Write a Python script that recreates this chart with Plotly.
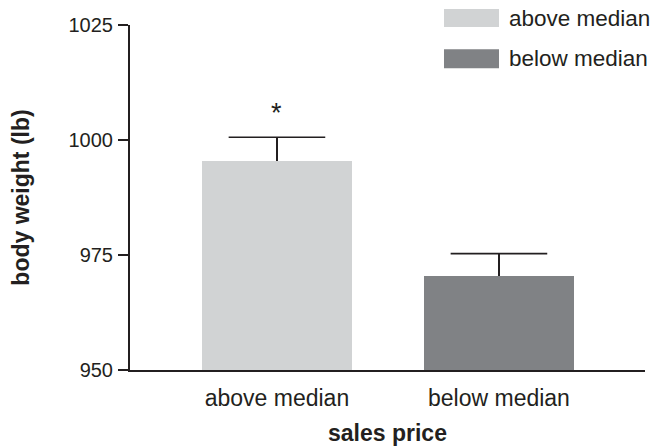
import plotly.graph_objects as go

categories = ["above median", "below median"]
values = [995.4, 970.4]
errors = [5.2, 4.9]
colors = ["#D1D3D4", "#808285"]
y_ticks = [950, 975, 1000, 1025]
significance = ["*", ""]

INK = "#231F20"
FONT = "Liberation Sans, Arial, Helvetica, sans-serif"

fig = go.Figure()
for cat, val, err, col in zip(categories, values, errors, colors):
    fig.add_trace(go.Bar(
        x=[cat], y=[val], name=cat, marker=dict(color=col, line=dict(width=0)),
        width=0.676, showlegend=False,
        error_y=dict(type="data", symmetric=False, array=[err], arrayminus=[0],
                     color=INK, thickness=1.6, width=0),
    ))

# error-bar caps (top only)
fig.add_trace(go.Scatter(
    x=categories, y=[v + e for v, e in zip(values, errors)], mode="markers",
    marker=dict(symbol="line-ew", size=69, line=dict(color=INK, width=1.6)),
    showlegend=False, hoverinfo="skip",
))

for cat, val, err, sig in zip(categories, values, errors, significance):
    if sig:
        fig.add_annotation(x=cat, y=val + err, text=sig, showarrow=False,
                           yanchor="middle", yshift=24,
                           font=dict(family=FONT, size=27, color=INK))

# custom legend (large swatches)
leg_y = [(0.9942, 1.0463), (0.8746, 0.9296)]
for (y0, y1), cat, col in zip(leg_y, categories, colors):
    fig.add_shape(type="rect", xref="paper", yref="paper",
                  x0=0.6097, x1=0.7165, y0=y0, y1=y1,
                  fillcolor=col, line=dict(width=0))
    fig.add_annotation(xref="paper", yref="paper", x=0.732, y=(y0 + y1) / 2,
                       text=cat, showarrow=False, xanchor="left", yanchor="middle",
                       font=dict(family=FONT, size=22.5, color=INK))

# page body has an 8px margin: size the figure so it fits the 670x448 window
fig.update_layout(
    width=662, height=440,
    margin=dict(l=122, r=25, t=17, b=78),
    plot_bgcolor="white", paper_bgcolor="white",
    font=dict(family=FONT, color=INK),
    bargap=0,
)
fig.update_xaxes(
    automargin=False,
    range=[-0.662, 1.658], showline=True, linecolor=INK, linewidth=2,
    ticks="", tickfont=dict(size=23, color=INK), ticklabelstandoff=6,
    showgrid=False, zeroline=False,
    title=dict(text="<b>sales price</b>", font=dict(size=23, color=INK), standoff=15),
)
fig.update_yaxes(
    automargin=False,
    range=[950, 1025], tickvals=y_ticks, ticktext=[str(t) for t in y_ticks],
    showline=True, linecolor=INK, linewidth=2, ticks="outside", ticklen=10,
    tickwidth=2, tickcolor=INK, tickfont=dict(size=20, color=INK),
    ticklabelstandoff=1,
    showgrid=False, zeroline=False,
    title=dict(text="<b>body weight (lb)</b>", font=dict(size=23, color=INK), standoff=38),
)

fig.write_html("out.html")
